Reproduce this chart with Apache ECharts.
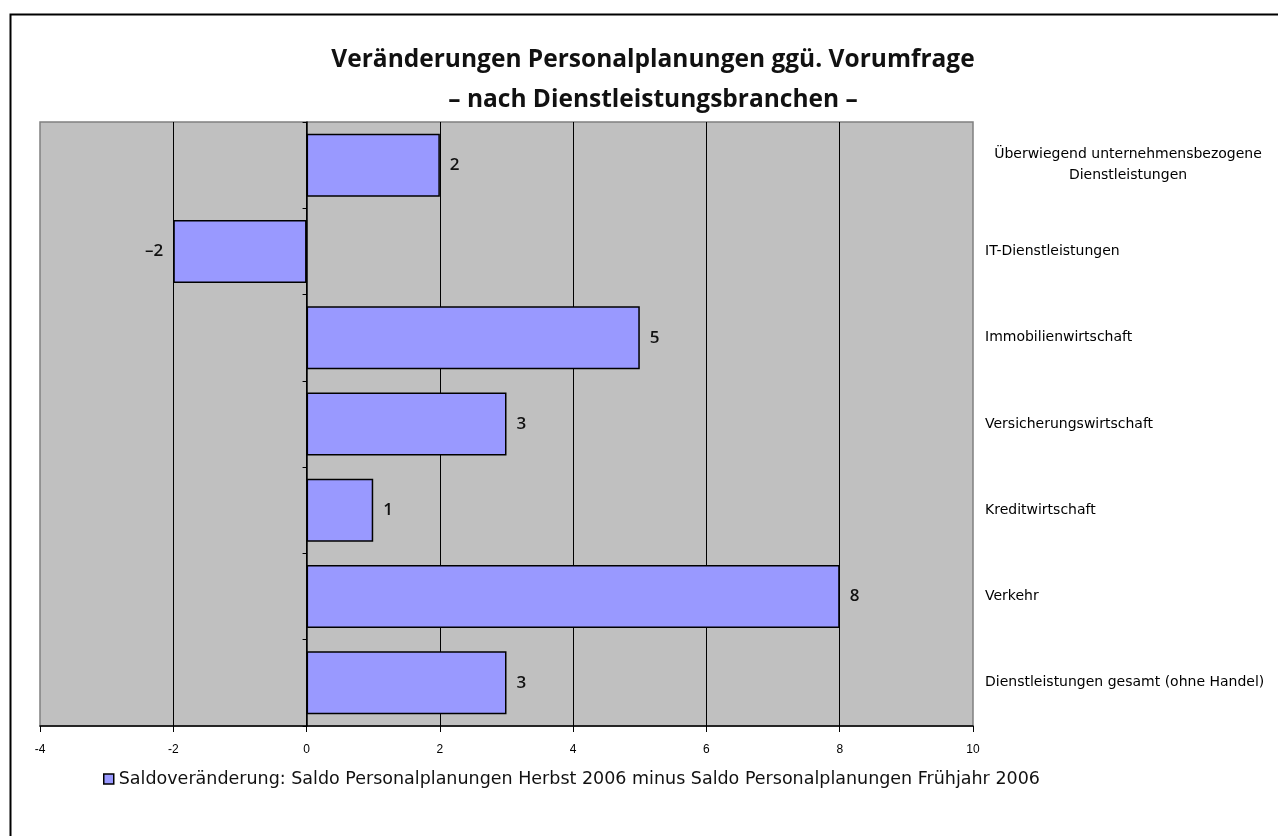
<!DOCTYPE html>
<html>
<head>
<meta charset="utf-8">
<script src="https://cdn.jsdelivr.net/npm/echarts@6/dist/echarts.min.js"></script>
<style>
    html, body { margin: 0; padding: 0; background: #fff; }
    #container { width: 1278px; height: 836px; }
</style>
</head>
<body>
<div id="container"></div>
<script>
    var categories = [
        'Überwiegend unternehmensbezogene\nDienstleistungen',
        'IT-Dienstleistungen',
        'Immobilienwirtschaft',
        'Versicherungswirtschaft',
        'Kreditwirtschaft',
        'Verkehr',
        'Dienstleistungen gesamt (ohne Handel)'
    ];
    var values = [2, -2, 5, 3, 1, 8, 3];
    var seriesName = 'Saldoveränderung: Saldo Personalplanungen Herbst 2006 minus Saldo Personalplanungen Frühjahr 2006';
    var titleText = 'Veränderungen Personalplanungen ggü. Vorumfrage\n– nach Dienstleistungsbranchen –';

    var chart = echarts.init(document.getElementById('container'));
    chart.setOption({
        animation: false,
        title: {
            text: titleText,
            left: 648,
            textAlign: 'center',
            top: 35,
            textStyle: {
                fontFamily: 'Open Sans',
                fontWeight: 'bold',
                fontSize: 24.5,
                lineHeight: 40,
                color: '#111'
            }
        },
        graphic: [{
            type: 'rect',
            left: 8, top: 12,
            shape: {width: 1300, height: 900},
            style: {fill: 'none', stroke: '#000', lineWidth: 2},
            z: -1
        }],
        legend: {
            left: 98,
            top: 765,
            icon: 'rect',
            itemWidth: 10,
            itemHeight: 10,
            itemGap: 6,
            itemStyle: {borderColor: '#000', borderWidth: 1.5},
            textStyle: {fontFamily: 'DejaVu Sans', fontSize: 17.5, color: '#111'},
            data: [seriesName]
        },
        grid: {
            left: 40, right: 305, top: 122, bottom: 110,
            show: true,
            backgroundColor: '#c0c0c0',
            borderColor: '#808080',
            borderWidth: 1.5
        },
        xAxis: {
            type: 'value',
            min: -4, max: 10, interval: 2,
            axisLine: {show: true, lineStyle: {color: '#000', width: 1.5}},
            axisTick: {show: true, length: 6, lineStyle: {color: '#000'}},
            axisLabel: {margin: 18, fontFamily: 'Liberation Sans', fontSize: 12, color: '#000'},
            splitLine: {show: true, showMinLine: false, showMaxLine: false, lineStyle: {color: '#000', width: 1}}
        },
        yAxis: [{
            type: 'category',
            inverse: true,
            data: categories,
            axisLine: {show: true, onZero: true, lineStyle: {color: '#000', width: 1.5}},
            axisTick: {show: true, length: 4, lineStyle: {color: '#000'}},
            axisLabel: {show: false}
        }, {
            type: 'category',
            inverse: true,
            position: 'right',
            data: categories,
            axisLine: {show: false},
            axisTick: {show: false},
            axisLabel: {
                margin: 12,
                align: 'left',
                fontFamily: 'DejaVu Sans',
                fontSize: 14,
                color: '#000',
                formatter: function (v) {
                    return v.indexOf('\n') >= 0 ? '{c|' + v + '}' : v;
                },
                rich: {
                    c: {width: 286, align: 'center', fontFamily: 'DejaVu Sans', fontSize: 14, lineHeight: 21, color: '#000'}
                }
            }
        }],
        series: [{
            name: seriesName,
            type: 'bar',
            yAxisIndex: 0,
            barCategoryGap: '27%',
            itemStyle: {color: '#9999ff', borderColor: '#000', borderWidth: 1.5},
            label: {
                show: true,
                distance: 10,
                fontFamily: 'Open Sans',
                fontWeight: 600,
                fontSize: 17,
                color: '#111',
                formatter: function (p) {
                    return String(p.value).replace('-', '–');
                }
            },
            data: values.map(function (v) {
                return {value: v, label: {position: v < 0 ? 'left' : 'right'}};
            })
        }]
    });
</script>
</body>
</html>
